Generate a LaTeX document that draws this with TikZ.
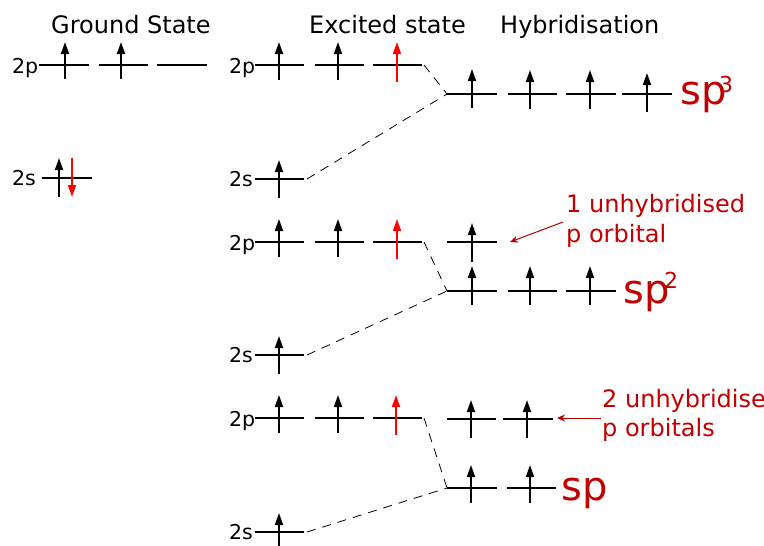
\documentclass[tikz,border=0pt]{standalone}
\usepackage{fontspec}
\setmainfont{DejaVu Sans}
\usetikzlibrary{arrows.meta,calc}
\definecolor{lblred}{HTML}{C00000}
\definecolor{annred}{HTML}{B00000}
\definecolor{spinred}{HTML}{FF0000}
\tikzset{
  level/.style={line width=1.6pt,black},
  spinup/.style={line width=1.7pt,-{Triangle[length=12pt,width=8pt]}},
  conn/.style={line width=0.8pt,dash pattern=on 9pt off 7pt},
  annarrow/.style={line width=1pt,annred,-{Stealth[length=8pt,width=7pt]}},
  title/.style={inner sep=0pt,anchor=base west,font=\fontsize{24}{29}\selectfont},
  lvl/.style={inner sep=0pt,anchor=base west,font=\fontsize{20.5}{24}\selectfont},
  ann/.style={inner sep=0pt,anchor=base west,text=lblred,font=\fontsize{24}{29}\selectfont},
  hyb/.style={inner sep=0pt,anchor=base west,text=lblred,font=\fontsize{40}{44}\selectfont},
  hybsup/.style={inner sep=0pt,anchor=base west,text=lblred,font=\fontsize{22}{26}\selectfont},
}
% orbital line: name, x1, x2, y
\newcommand{\orbl}[4]{%
  \coordinate (#1-w) at (#2,#4);
  \coordinate (#1-e) at (#3,#4);
  \draw[level] (#1-w) -- (#1-e);
}
% spin arrow: x, ystart, yend, colour
\newcommand{\spn}[4]{\draw[spinup,#4] (#1,#2) -- (#1,#3);}
\begin{document}
\begin{tikzpicture}[x=1pt,y=-1pt]
\clip (0,0) rectangle (764,546);
% titles
\node[title] (tg) at (51,34) {Ground State};
\node[title] (te) at (309,34) {Excited state};
\node[title] (th) at (500,34) {Hybridisation};
% ---- ground state
\node[lvl] (lg2p) at (12,73) {2p};
\orbl{g2p1}{39}{89}{65}
\orbl{g2p2}{99}{148}{65}
\orbl{g2p3}{157}{207}{65}
\spn{65}{79}{42}{black}
\spn{121}{79}{42}{black}
\node[lvl] (lg2s) at (12,185) {2s};
\orbl{g2s}{42}{92}{178}
\spn{59}{197}{158}{black}
\spn{72}{158}{197}{spinred}
% ---- block A : sp3
\node[lvl] (la2p) at (229,73) {2p};
\orbl{a2p1}{255}{304}{65}
\orbl{a2p2}{315}{364}{65}
\orbl{a2p3}{373}{422}{65}
\spn{279}{80}{42}{black}
\spn{338}{80}{42}{black}
\spn{397}{82}{42}{spinred}
\node[lvl] (la2s) at (229,186) {2s};
\orbl{a2s}{255}{304}{179}
\spn{279}{198}{160}{black}
\orbl{h3a}{447}{497}{94}
\orbl{h3b}{508}{557}{94}
\orbl{h3c}{566}{616}{94}
\orbl{h3d}{622}{672}{94}
\spn{472}{108}{69}{black}
\spn{530}{109}{70}{black}
\spn{590}{109}{70}{black}
\spn{647}{112}{73}{black}
\draw[conn] ([xshift=2pt]a2p3-e) -- (h3a-w);
\draw[conn] ([xshift=3pt]a2s-e) -- (h3a-w);
\node[hyb] (sp3) at (680,104) {sp};
\node[hybsup] (sp3s) at (719,92) {3};
% ---- block B : sp2
\node[lvl] (lb2p) at (229,250) {2p};
\orbl{b2p1}{255}{304}{242}
\orbl{b2p2}{315}{364}{242}
\orbl{b2p3}{373}{422}{242}
\spn{279}{257}{219}{black}
\spn{338}{257}{219}{black}
\spn{397}{259}{219}{spinred}
\node[lvl] (lb2s) at (229,362) {2s};
\orbl{b2s}{255}{304}{355}
\spn{279}{374}{336}{black}
\orbl{h2p}{447}{497}{242}
\spn{472}{262}{223}{black}
\orbl{h2a}{447}{497}{291}
\orbl{h2b}{508}{557}{291}
\orbl{h2c}{566}{616}{291}
\spn{472}{305}{266}{black}
\spn{530}{305}{266}{black}
\spn{590}{305}{266}{black}
\draw[conn] ([xshift=2pt]b2p3-e) -- (h2a-w);
\draw[conn] ([xshift=3pt]b2s-e) -- (h2a-w);
\node[hyb] (sp2) at (623,303) {sp};
\node[hybsup] (sp2s) at (664,288) {2};
\node[ann] (n1a) at (566,212) {1 unhybridised};
\node[ann] (n1b) at (566,242) {p orbital};
\coordinate (n1o) at (563,222);
\coordinate (n1t) at (510,242);
\draw[annarrow] (n1o) -- (n1t);
% ---- block C : sp
\node[lvl] (lc2p) at (229,426) {2p};
\orbl{c2p1}{255}{304}{418}
\orbl{c2p2}{315}{364}{418}
\orbl{c2p3}{373}{422}{418}
\spn{279}{433}{395}{black}
\spn{338}{433}{395}{black}
\spn{396}{435}{395}{spinred}
\node[lvl] (lc2s) at (229,539) {2s};
\orbl{c2s}{255}{304}{532}
\spn{279}{551}{513}{black}
\orbl{h1p}{447}{496}{419}
\orbl{h1q}{503}{553}{419}
\spn{471}{438}{400}{black}
\spn{527}{438}{400}{black}
\orbl{h1a}{447}{497}{488}
\orbl{h1b}{507}{556}{488}
\spn{471}{503}{465}{black}
\spn{530}{503}{465}{black}
\draw[conn] ([xshift=2pt]c2p3-e) -- (h1a-w);
\draw[conn] ([xshift=3pt]c2s-e) -- (h1a-w);
\node[hyb] (sp1) at (561,500) {sp};
\node[ann] (n2a) at (602,407) {2 unhybridised};
\node[ann] (n2b) at (602,436) {p orbitals};
\coordinate (n2o) at (601,418);
\coordinate (n2t) at (557,418);
\draw[annarrow] (n2o) -- (n2t);
\end{tikzpicture}
\end{document}
